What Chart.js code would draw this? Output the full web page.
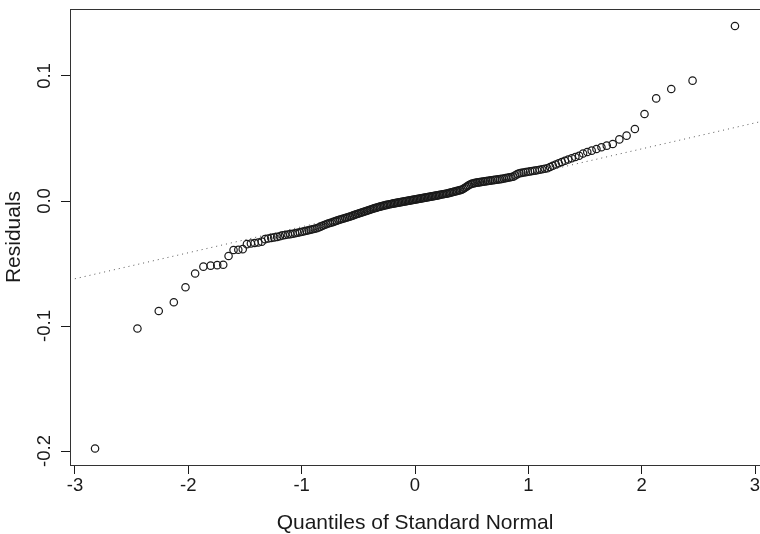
<!DOCTYPE html>
<html>
<head>
<meta charset="utf-8">
<script src="https://cdn.jsdelivr.net/npm/chart.js@4"></script>
<style>
  html, body { margin: 0; padding: 0; background: #fff; overflow: hidden; }
  #wrap { width: 760px; height: 534px; }
</style>
</head>
<body>
<div id="wrap"><canvas id="qq" width="760" height="534"></canvas></div>
<script>
// theoretical quantiles of the standard normal (210 residuals)
const quantiles = [
  -2.823, -2.449, -2.261, -2.128, -2.025, -1.940, -1.867, -1.803, -1.745, -1.692,
  -1.645, -1.601, -1.559, -1.520, -1.483, -1.448, -1.415, -1.383, -1.352, -1.323,
  -1.295, -1.268, -1.242, -1.216, -1.192, -1.168, -1.145, -1.122, -1.100, -1.078,
  -1.057, -1.036, -1.016, -0.996, -0.977, -0.958, -0.939, -0.921, -0.903, -0.885,
  -0.867, -0.850, -0.833, -0.816, -0.800, -0.783, -0.767, -0.751, -0.736, -0.720,
  -0.705, -0.690, -0.674, -0.660, -0.645, -0.630, -0.616, -0.601, -0.587, -0.573,
  -0.559, -0.545, -0.531, -0.518, -0.504, -0.491, -0.477, -0.464, -0.451, -0.437,
  -0.424, -0.411, -0.398, -0.385, -0.372, -0.360, -0.347, -0.334, -0.322, -0.309,
  -0.297, -0.284, -0.272, -0.259, -0.247, -0.235, -0.222, -0.210, -0.198, -0.186,
  -0.174, -0.162, -0.150, -0.138, -0.126, -0.114, -0.102, -0.090, -0.078, -0.066,
  -0.054, -0.042, -0.030, -0.018, -0.006, 0.006, 0.018, 0.030, 0.042, 0.054,
  0.066, 0.078, 0.090, 0.102, 0.114, 0.126, 0.138, 0.150, 0.162, 0.174,
  0.186, 0.198, 0.210, 0.222, 0.235, 0.247, 0.259, 0.272, 0.284, 0.297,
  0.309, 0.322, 0.334, 0.347, 0.360, 0.372, 0.385, 0.398, 0.411, 0.424,
  0.437, 0.451, 0.464, 0.477, 0.491, 0.504, 0.518, 0.531, 0.545, 0.559,
  0.573, 0.587, 0.601, 0.616, 0.630, 0.645, 0.660, 0.674, 0.690, 0.705,
  0.720, 0.736, 0.751, 0.767, 0.783, 0.800, 0.816, 0.833, 0.850, 0.867,
  0.885, 0.903, 0.921, 0.939, 0.958, 0.977, 0.996, 1.016, 1.036, 1.057,
  1.078, 1.100, 1.122, 1.145, 1.168, 1.192, 1.216, 1.242, 1.268, 1.295,
  1.323, 1.352, 1.383, 1.415, 1.448, 1.483, 1.520, 1.559, 1.601, 1.645,
  1.692, 1.745, 1.803, 1.867, 1.940, 2.025, 2.128, 2.261, 2.449, 2.823
];

// sorted residuals
const residuals = [
  -0.198, -0.102, -0.088, -0.081, -0.069, -0.058, -0.0525, -0.0517, -0.0513, -0.051,
  -0.044, -0.0392, -0.039, -0.0385, -0.0345, -0.034, -0.0336, -0.0332, -0.0325, -0.0305,
  -0.030, -0.0295, -0.0291, -0.0287, -0.0282, -0.0275, -0.0272, -0.0268, -0.0265, -0.0262,
  -0.0258, -0.0254, -0.025, -0.0246, -0.0242, -0.0238, -0.0234, -0.023, -0.0226, -0.0222,
  -0.0218, -0.0212, -0.0205, -0.0198, -0.0192, -0.0186, -0.018, -0.0176, -0.0172, -0.0167,
  -0.0162, -0.0157, -0.0152, -0.0148, -0.0144, -0.014, -0.0136, -0.0132, -0.0128, -0.0124,
  -0.012, -0.0115, -0.011, -0.0106, -0.0102, -0.0098, -0.0094, -0.009, -0.0086, -0.0082,
  -0.0078, -0.0074, -0.007, -0.0066, -0.0062, -0.0058, -0.0055, -0.0052, -0.0048, -0.0045,
  -0.0042, -0.0039, -0.0036, -0.0033, -0.0031, -0.0028, -0.0026, -0.0024, -0.0021, -0.0019,
  -0.0017, -0.0015, -0.0013, -0.0011, -0.0009, -0.0007, -0.0005, -0.0003, -0.0001, 0.0001,
  0.0003, 0.0005, 0.0007, 0.0009, 0.0011, 0.0013, 0.0015, 0.0017, 0.0019, 0.0021,
  0.0023, 0.0025, 0.0027, 0.0029, 0.0031, 0.0033, 0.0035, 0.0037, 0.0039, 0.0041,
  0.0043, 0.0045, 0.0047, 0.005, 0.0052, 0.0054, 0.0056, 0.0058, 0.006, 0.0063,
  0.0066, 0.0069, 0.0072, 0.0075, 0.0078, 0.0081, 0.0084, 0.0087, 0.009, 0.0096,
  0.0104, 0.0112, 0.012, 0.0128, 0.0134, 0.0139, 0.0142, 0.0145, 0.0147, 0.0149,
  0.0151, 0.0153, 0.0155, 0.0157, 0.0159, 0.0161, 0.0163, 0.0165, 0.0167, 0.0169,
  0.0171, 0.0173, 0.0175, 0.0177, 0.018, 0.0183, 0.0186, 0.0189, 0.0192, 0.0195,
  0.0205, 0.0215, 0.0222, 0.0225, 0.0228, 0.0231, 0.0234, 0.0237, 0.024, 0.0243,
  0.0246, 0.025, 0.0254, 0.0258, 0.0262, 0.0272, 0.0282, 0.0292, 0.0302, 0.0312,
  0.0322, 0.0332, 0.0342, 0.0352, 0.0362, 0.038, 0.0392, 0.0403, 0.0416, 0.043,
  0.0443, 0.0456, 0.0493, 0.0523, 0.0576, 0.0696, 0.0821, 0.0896, 0.0963, 0.140
];

// qqline end points (edges of the plot)
const refLineX = [-3.044, 3.044];
const refLineY = [-0.0631, 0.0634];

const xTicks = [-3, -2, -1, 0, 1, 2, 3];
const yTicks = [-0.2, -0.1, 0.0, 0.1];

const FONT = "'Liberation Sans', Arial, Helvetica, sans-serif";
const INK = '#1a1a1a';

// draws the top/right edges of the plot box
const boxPlugin = {
    id: 'box',
    afterDraw(chart) {
        const { ctx, chartArea: a } = chart;
        ctx.save();
        ctx.strokeStyle = '#333';
        ctx.lineWidth = 1;
        ctx.strokeRect(Math.round(a.left) + 0.5, Math.round(a.top) + 0.5,
            Math.round(a.right - a.left), Math.round(a.bottom - a.top));
        ctx.restore();
    }
};

const ctx = document.getElementById('qq');
new Chart(ctx, {
    type: 'scatter',
    data: {
        datasets: [{
            label: 'Residuals',
            data: quantiles.map((q, i) => ({ x: q, y: residuals[i] })),
            pointStyle: 'circle',
            pointRadius: 3.7,
            pointHoverRadius: 3.7,
            borderWidth: 1.2,
            borderColor: INK,
            backgroundColor: 'rgba(0,0,0,0)'
        }, {
            type: 'line',
            label: 'qqline',
            data: refLineX.map((x, i) => ({ x: x, y: refLineY[i] })),
            borderColor: '#555',
            borderWidth: 1,
            borderDash: [1, 4],
            pointRadius: 0,
            fill: false
        }]
    },
    options: {
        responsive: false,
        animation: false,
        devicePixelRatio: 1,
        layout: { autoPadding: false, padding: { top: 9, left: 0, right: 0, bottom: 0 } },
        plugins: {
            legend: { display: false },
            tooltip: { enabled: false }
        },
        scales: {
            x: {
                type: 'linear',
                min: -3.044,
                max: 3.044,
                afterBuildTicks: s => { s.ticks = xTicks.map(v => ({ value: v })); },
                afterFit: s => { s.height = 69; s.paddingLeft = 0; s.paddingRight = 0; },
                ticks: {
                    color: INK,
                    font: { family: FONT, size: 18.5 },
                    padding: 1,
                    maxRotation: 0,
                    autoSkip: false,
                    callback: v => String(v)
                },
                grid: { drawOnChartArea: false, drawTicks: true, tickLength: 9, color: INK },
                border: { display: true, color: '#333', width: 1 },
                title: {
                    display: true,
                    text: 'Quantiles of Standard Normal',
                    color: INK,
                    font: { family: FONT, size: 21, lineHeight: 1.0 },
                    padding: { top: 0, bottom: 0 }
                }
            },
            y: {
                type: 'linear',
                min: -0.2112,
                max: 0.1536,
                afterBuildTicks: s => { s.ticks = yTicks.map(v => ({ value: v })); },
                afterFit: s => { s.width = 70; s.paddingTop = 0; s.paddingBottom = 0; },
                ticks: {
                    color: INK,
                    font: { family: FONT, size: 18.5 },
                    padding: 0,
                    minRotation: 90,
                    maxRotation: 90,
                    crossAlign: 'center',
                    autoSkip: false,
                    callback: v => v.toFixed(1)
                },
                grid: { drawOnChartArea: false, drawTicks: true, tickLength: 9, color: INK },
                border: { display: true, color: '#333', width: 1 },
                title: {
                    display: true,
                    text: 'Residuals',
                    color: INK,
                    font: { family: FONT, size: 21 },
                    padding: { top: 2, bottom: 0 }
                }
            }
        }
    },
    plugins: [boxPlugin]
});
</script>
</body>
</html>
